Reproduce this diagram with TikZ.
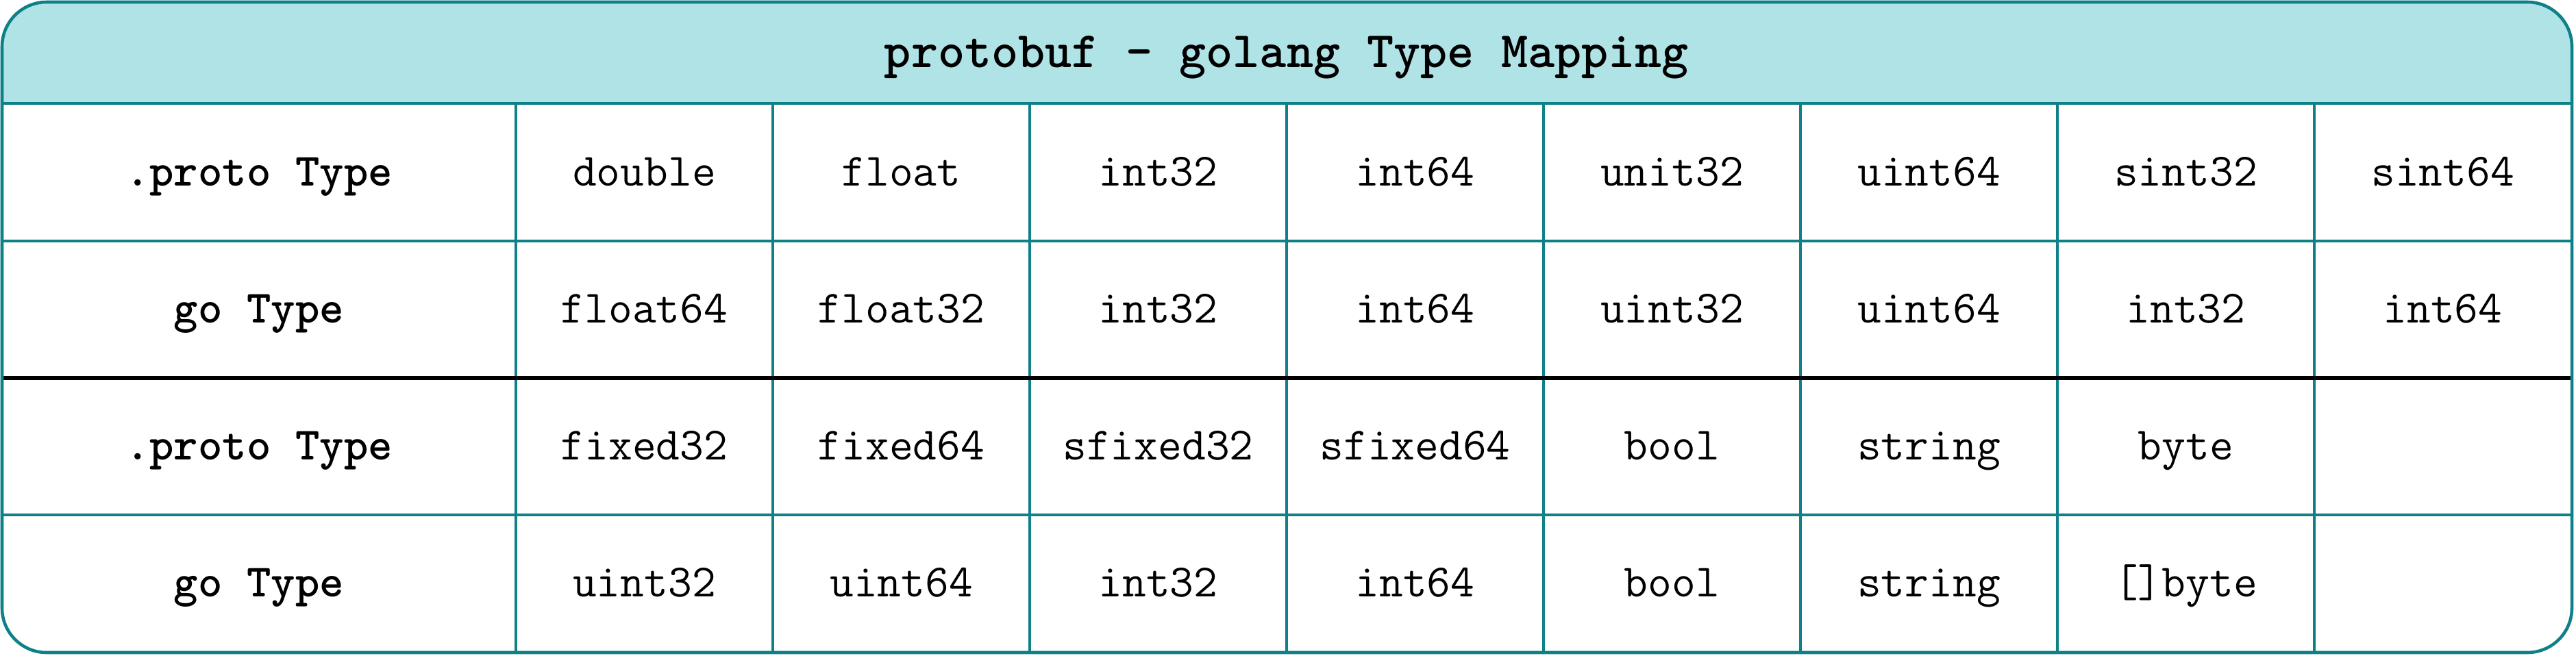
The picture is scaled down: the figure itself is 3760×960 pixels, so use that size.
\documentclass[tikz,border=0pt]{standalone}
\definecolor{tealline}{HTML}{0E8088}
\definecolor{hdrfill}{HTML}{B0E3E6}
\begin{document}
\begin{tikzpicture}[x=0.01cm,y=-0.01cm,
  gridline/.style={draw=tealline,line width=1.3pt},
  sepline/.style={draw=black,line width=1.5pt},
  cell/.style={font=\fontsize{19.2}{22}\selectfont\ttfamily,anchor=base,inner sep=0pt},
  rowhead/.style={font=\fontsize{19.2}{22}\selectfont\ttfamily\bfseries,anchor=base,inner sep=0pt},
  titletext/.style={font=\fontsize{21.2}{25}\selectfont\ttfamily\bfseries,anchor=base,inner sep=0pt}]
\useasboundingbox (0,0) rectangle (3760,960);
% header fill
\begin{scope}
  \clip[rounded corners=0.65cm] (3,3) rectangle (3754,953);
  \fill[hdrfill] (3,3) rectangle (3754,151);
\end{scope}
% horizontal teal lines
\draw[gridline] (3,151) -- (3754,151);
\draw[gridline] (3,352) -- (3754,352);
\draw[gridline] (3,752) -- (3754,752);
% vertical lines
\draw[gridline] (753,151) -- (753,953);
\foreach \k in {1,...,7} \draw[gridline] ({753+375*\k},151) -- ({753+375*\k},953);
% black separator
\draw[sepline] (3,552) -- (3754,552);
% outer border
\draw[gridline,rounded corners=0.65cm] (3,3) rectangle (3754,953);
% title
\node[titletext] (title) at (1878,98) {protobuf - golang Type Mapping};
% row heads
\node[rowhead] (h1) at (378,271) {.proto Type};
\node[rowhead] (h2) at (378,471) {go Type};
\node[rowhead] (h3) at (378,671) {.proto Type};
\node[rowhead] (h4) at (378,871) {go Type};
% cells
\foreach \t [count=\k] in {double,float,int32,int64,unit32,uint64,sint32,sint64}
  \node[cell] (ra\k) at ({753+375*(\k-0.5)},271) {\t};
\foreach \t [count=\k] in {float64,float32,int32,int64,uint32,uint64,int32,int64}
  \node[cell] (rb\k) at ({753+375*(\k-0.5)},471) {\t};
\foreach \t [count=\k] in {fixed32,fixed64,sfixed32,sfixed64,bool,string,byte}
  \node[cell] (rc\k) at ({753+375*(\k-0.5)},671) {\t};
\foreach \t [count=\k] in {uint32,uint64,int32,int64,bool,string,{[]byte}}
  \node[cell] (rd\k) at ({753+375*(\k-0.5)},871) {\t};
\end{tikzpicture}
\end{document}
